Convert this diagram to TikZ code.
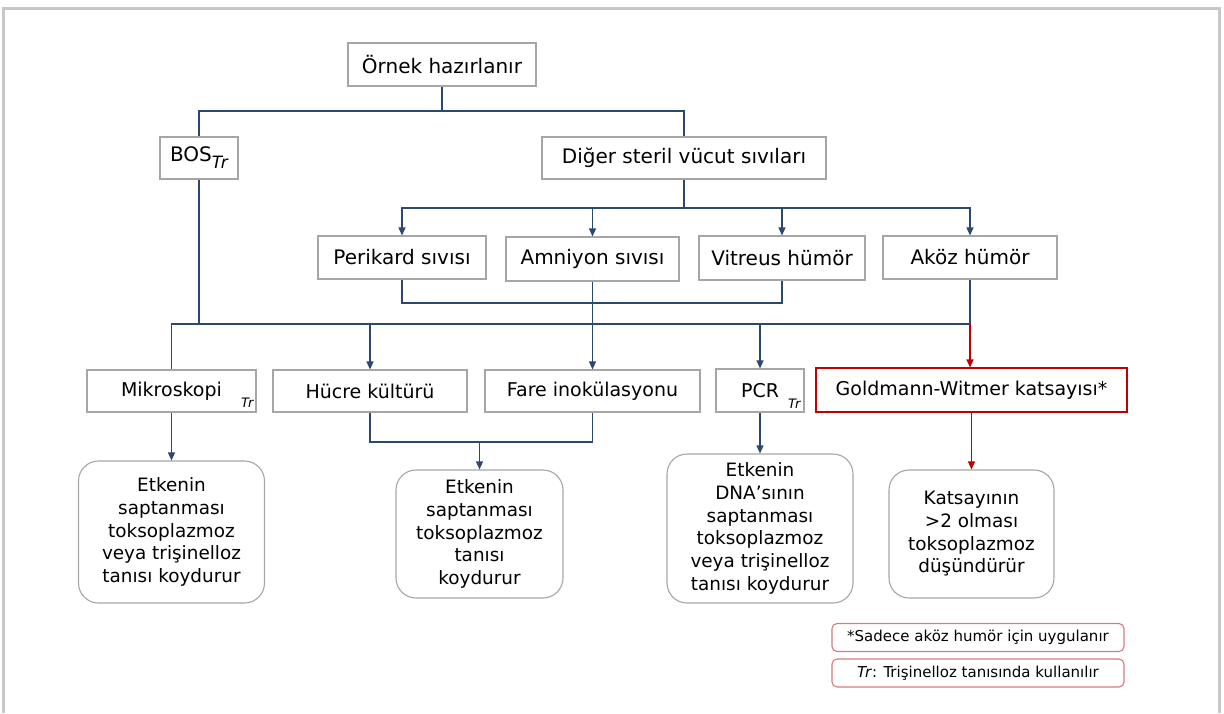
\documentclass[tikz,border=0pt]{standalone}
\usepackage{fontspec}
\setmainfont{DejaVu Sans}
\usetikzlibrary{arrows.meta,positioning}
\definecolor{linkblue}{RGB}{44,72,110}
\definecolor{boxgray}{RGB}{166,166,166}
\definecolor{gwred}{RGB}{192,0,0}
\definecolor{notered}{RGB}{214,122,122}
\definecolor{framegray}{RGB}{200,200,200}

\begin{document}
\begin{tikzpicture}[x=1pt,y=-1pt,
  upbox/.style={draw=boxgray,line width=1.1pt,inner sep=0pt,font=\fontsize{20}{24}\selectfont},
  midbox/.style={draw=boxgray,line width=1.1pt,inner sep=0pt,font=\fontsize{19}{23}\selectfont},
  resbox/.style={draw=boxgray,line width=1.1pt,rounded corners=20pt,inner sep=0pt,align=center,
    font=\fontsize{18.4}{22.7}\selectfont},
  notebox/.style={draw=notered,line width=1.1pt,rounded corners=5pt,inner sep=0pt,
    minimum width=292pt,minimum height=28pt,font=\fontsize{15}{18}\selectfont},
  trmark/.style={inner sep=0pt,font=\fontsize{13}{13}\selectfont\itshape},
  link/.style={draw=linkblue,line width=1.3pt},
  redlink/.style={draw=gwred,line width=1.2pt},
  arr/.style={-{Triangle[length=8pt,width=7pt]}}]
  \useasboundingbox (0,0) rectangle (1224,713);
  \draw[framegray,line width=3pt] (3.5,713) -- (3.5,8.5) -- (1219.5,8.5) -- (1219.5,713);

  % first levels
  \node[upbox,minimum width=188pt,minimum height=43pt] (ornek) at (442,64.5) {Örnek hazırlanır};
  \node[upbox,minimum width=78pt,minimum height=42pt] (bos) at (199,158)
    {BOS\raisebox{-7pt}{\fontsize{17}{17}\selectfont\itshape Tr}};
  \node[upbox,minimum width=284pt,minimum height=42pt] (diger) at (684,158) {Diğer steril vücut sıvıları};
  \node[upbox,minimum width=168pt,minimum height=43pt] (perikard) at (402,257.5) {Perikard sıvısı};
  \node[upbox,minimum width=173pt,minimum height=44pt] (amniyon) at (592.5,259) {Amniyon sıvısı};
  \node[upbox,minimum width=166pt,minimum height=44pt] (vitreus) at (782,258) {Vitreus hümör};
  \node[upbox,minimum width=174pt,minimum height=43pt] (akoz) at (970,257.5) {Aköz hümör};

  % methods
  \node[midbox,minimum width=169pt,minimum height=42pt] (mikro) at (171.5,391) {Mikroskopi};
  \node[trmark,above left=5pt and 3pt of mikro.south east] (mikrotr) {Tr};
  \node[midbox,minimum width=194pt,minimum height=42pt] (hucre) at (370,391) {Hücre kültürü};
  \node[midbox,minimum width=215pt,minimum height=42pt] (fare) at (592.5,391) {Fare inokülasyonu};
  \node[midbox,minimum width=88pt,minimum height=43pt] (pcr) at (760,390.5) {PCR};
  \node[trmark,above left=4pt and 4pt of pcr.south east] (pcrtr) {Tr};
  \node[midbox,draw=gwred,minimum width=311pt,minimum height=44pt] (gw) at (971.5,390) {Goldmann-Witmer katsayısı*};

  % results
  \node[resbox,minimum width=186pt,minimum height=142pt] (res1) at (171.5,532)
    {Etkenin\\saptanması\\toksoplazmoz\\veya trişinelloz\\tanısı koydurur};
  \node[resbox,minimum width=167pt,minimum height=128pt] (res2) at (479.5,534)
    {Etkenin\\saptanması\\toksoplazmoz\\tanısı\\koydurur};
  \node[resbox,minimum width=186pt,minimum height=149pt] (res3) at (760,528.5)
    {Etkenin\\DNA’sının\\saptanması\\toksoplazmoz\\veya trişinelloz\\tanısı koydurur};
  \node[resbox,minimum width=165pt,minimum height=128pt] (res4) at (971.5,534)
    {Katsayının\\>2 olması\\toksoplazmoz\\düşündürür};

  % notes
  \node[notebox] (note1) at (978,637.5) {*Sadece aköz humör için uygulanır};
  \node[notebox] (note2) at (978,673) {\textit{Tr}: Trişinelloz tanısında kullanılır};

  % connector levels
  \coordinate (lvA) at (0,111);
  \coordinate (lvB) at (0,208);
  \coordinate (lvC) at (0,303);
  \coordinate (lvD) at (0,324);
  \coordinate (lvE) at (0,442);

  \draw[link] (ornek.south) -- (ornek.south |- lvA);
  \draw[link] (bos.north) |- (ornek.south |- lvA) -| (diger.north);
  \draw[link] (diger.south) -- (diger.south |- lvB);
  \foreach \n in {perikard,amniyon,vitreus,akoz}
    \draw[link,arr] (diger.south |- lvB) -| (\n.north);
  \draw[link] (perikard.south) -- (perikard.south |- lvC) -| (vitreus.south);
  \draw[link] (mikro.north) -- (mikro.north |- lvD) -- (akoz.south |- lvD) -- (akoz.south);
  \draw[link] (bos.south) -- (bos.south |- lvD);
  \draw[link,arr] (hucre.north |- lvD) -- (hucre.north);
  \draw[link,arr] (amniyon.south) -- (fare.north);
  \draw[link,arr] (pcr.north |- lvD) -- (pcr.north);
  \draw[redlink,arr] (akoz.south |- lvD) -- (akoz.south |- gw.north);
  \draw[link] (hucre.south) -- (hucre.south |- lvE) -| (fare.south);
  \draw[link,arr] (res2.north |- lvE) -- (res2.north);
  \draw[link,arr] (mikro.south) -- (res1.north);
  \draw[link,arr] (pcr.south) -- (res3.north);
  \draw[redlink,arr] (gw.south) -- (res4.north);
\end{tikzpicture}
\end{document}
